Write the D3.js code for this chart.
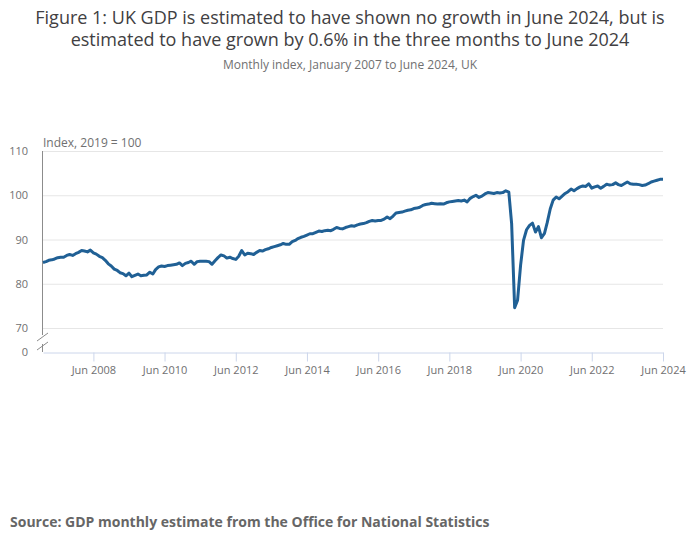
<!DOCTYPE html>
<html>
<head>
<meta charset="utf-8">
<script src="https://cdn.jsdelivr.net/npm/d3@7"></script>
<style>
  body { margin: 0; background: #fff; font-family: "Open Sans", sans-serif; }
</style>
</head>
<body>
<svg id="chart" width="700" height="549"></svg>
<script>
// monthly GDP index, 2019 = 100, one array per year
const y2007 = [84.8, 85.0, 85.3, 85.4, 85.6, 85.9, 86.0, 86.0, 86.4, 86.6, 86.4, 86.8];
const y2008 = [87.1, 87.5, 87.4, 87.2, 87.6, 87.0, 86.7, 86.2, 85.9, 85.3, 84.5, 84.0];
const y2009 = [83.3, 83.0, 82.5, 82.3, 81.8, 82.4, 81.6, 81.9, 82.2, 81.8, 81.9, 82.0];
const y2010 = [82.6, 82.2, 83.2, 83.8, 84.0, 83.9, 84.1, 84.2, 84.3, 84.4, 84.7, 84.1];
const y2011 = [84.6, 84.8, 85.1, 84.4, 85.0, 85.1, 85.1, 85.1, 85.0, 84.4, 85.2, 85.9];
const y2012 = [86.5, 86.3, 85.8, 86.0, 85.7, 85.5, 86.2, 87.5, 86.5, 86.9, 86.8, 86.6];
const y2013 = [87.1, 87.5, 87.4, 87.7, 87.9, 88.2, 88.4, 88.6, 88.8, 89.1, 88.9, 88.9];
const y2014 = [89.5, 89.8, 90.2, 90.5, 90.7, 91.0, 91.3, 91.3, 91.6, 91.9, 91.8, 92.0];
const y2015 = [92.1, 92.0, 92.3, 92.7, 92.5, 92.4, 92.7, 92.9, 93.1, 93.0, 93.3, 93.5];
const y2016 = [93.6, 93.8, 94.1, 94.3, 94.2, 94.3, 94.3, 94.6, 95.1, 94.7, 95.3, 96.0];
const y2017 = [96.1, 96.2, 96.4, 96.6, 96.7, 97.0, 97.1, 97.3, 97.7, 97.9, 98.0, 98.2];
const y2018 = [98.1, 98.0, 98.1, 98.0, 98.3, 98.5, 98.6, 98.7, 98.8, 98.7, 98.9, 98.5];
const y2019 = [99.3, 99.7, 100.0, 99.5, 99.8, 100.3, 100.6, 100.5, 100.4, 100.6, 100.5, 100.6];
const y2020 = [101.0, 100.7, 93.6, 74.6, 76.3, 84.2, 89.8, 92.2, 93.2, 93.7, 91.7, 92.9];
const y2021 = [90.4, 91.4, 93.8, 96.9, 98.9, 99.6, 99.2, 99.8, 100.4, 100.8, 101.4, 101.0];
const y2022 = [101.5, 101.9, 102.1, 102.0, 102.6, 101.6, 101.9, 102.1, 101.6, 102.0, 102.5, 102.3];
const y2023 = [102.4, 102.8, 102.4, 102.2, 102.6, 103.0, 102.6, 102.5, 102.5, 102.4, 102.2, 102.3];
const y2024 = [102.6, 103.0, 103.2, 103.4, 103.6, 103.6];

const years = [y2007, y2008, y2009, y2010, y2011, y2012, y2013, y2014, y2015,
               y2016, y2017, y2018, y2019, y2020, y2021, y2022, y2023, y2024];
const firstYear = 2007;

const yTicks = [0, 70, 80, 90, 100, 110];
const xTickYears = [2008, 2010, 2012, 2014, 2016, 2018, 2020, 2022, 2024];

const data = [];
years.forEach((vals, i) => {
    vals.forEach((v, m) => data.push({ date: new Date(firstYear + i, m, 1), value: v }));
});

const svg = d3.select("#chart");
const grey = "#707071";

const plotLeft = 43, plotRight = 663, plotTop = 151, plotBottom = 352;

const x = d3.scaleTime()
    .domain([new Date(2007, 0, 1), new Date(2024, 5, 1)])
    .range([plotLeft, plotRight]);

// broken axis: 0 sits just under 70
const y = d3.scaleLinear()
    .domain([0, 70, 110])
    .range([plotBottom, 328, plotTop]);

// titles
svg.append("text")
    .attr("x", 350).attr("y", 24)
    .attr("text-anchor", "middle")
    .style("font-size", "18px").style("fill", "#414042")
    .text("Figure 1: UK GDP is estimated to have shown no growth in June 2024, but is");
svg.append("text")
    .attr("x", 350).attr("y", 46)
    .attr("text-anchor", "middle")
    .style("font-size", "18px").style("fill", "#414042")
    .text("estimated to have grown by 0.6% in the three months to June 2024");
svg.append("text")
    .attr("x", 350).attr("y", 69)
    .attr("text-anchor", "middle")
    .style("font-size", "12px").style("fill", grey)
    .text("Monthly index, January 2007 to June 2024, UK");

svg.append("text")
    .attr("x", plotLeft).attr("y", 147)
    .style("font-size", "12px").style("fill", grey)
    .text("Index, 2019 = 100");

// gridlines
svg.append("g")
    .selectAll("line")
    .data(yTicks.filter(d => d > 0))
    .enter().append("line")
    .attr("x1", plotLeft).attr("x2", plotRight)
    .attr("y1", d => y(d) + 0.5).attr("y2", d => y(d) + 0.5)
    .attr("stroke", "#e6e6e6")
    .attr("stroke-width", 1);

// y labels
svg.append("g")
    .selectAll("text")
    .data(yTicks)
    .enter().append("text")
    .attr("x", 28)
    .attr("y", d => y(d) + 4)
    .attr("text-anchor", "end")
    .style("font-size", "11px").style("fill", grey)
    .text(d => d);

// x axis
const xAxis = d3.axisBottom(x)
    .tickValues(xTickYears.map(yr => new Date(yr, 5, 1)))
    .tickFormat(d3.timeFormat("Jun %Y"))
    .tickSize(9)
    .tickSizeOuter(0);

const gx = svg.append("g")
    .attr("transform", `translate(0,${plotBottom + 0.5})`)
    .call(xAxis);
gx.select(".domain").attr("stroke", "#ccd6eb");
gx.selectAll(".tick line").attr("stroke", "#ccd6eb");
gx.selectAll(".tick text")
    .attr("dy", "0.9em")
    .style("font-family", "Open Sans, sans-serif")
    .style("font-size", "11px")
    .style("fill", grey);

// y axis line with break marks
svg.append("line")
    .attr("x1", plotLeft - 0.5).attr("x2", plotLeft - 0.5)
    .attr("y1", plotTop).attr("y2", 335)
    .attr("stroke", "#8c8c8c");
svg.append("line")
    .attr("x1", plotLeft - 0.5).attr("x2", plotLeft - 0.5)
    .attr("y1", 344).attr("y2", plotBottom)
    .attr("stroke", "#8c8c8c");
svg.append("g")
    .selectAll("line")
    .data([337, 346])
    .enter().append("line")
    .attr("x1", 37).attr("x2", 48)
    .attr("y1", d => d + 4).attr("y2", d => d - 4)
    .attr("stroke", "#8c8c8c");

// the series
const line = d3.line()
    .x(d => x(d.date))
    .y(d => y(d.value));

svg.append("path")
    .datum(data)
    .attr("fill", "none")
    .attr("stroke", "#206095")
    .attr("stroke-width", 3)
    .attr("stroke-linejoin", "round")
    .attr("d", line);

// source
svg.append("text")
    .attr("x", 10).attr("y", 527)
    .style("font-size", "14px").style("font-weight", "bold")
    .style("fill", "#666666")
    .text("Source: GDP monthly estimate from the Office for National Statistics");
</script>
</body>
</html>
